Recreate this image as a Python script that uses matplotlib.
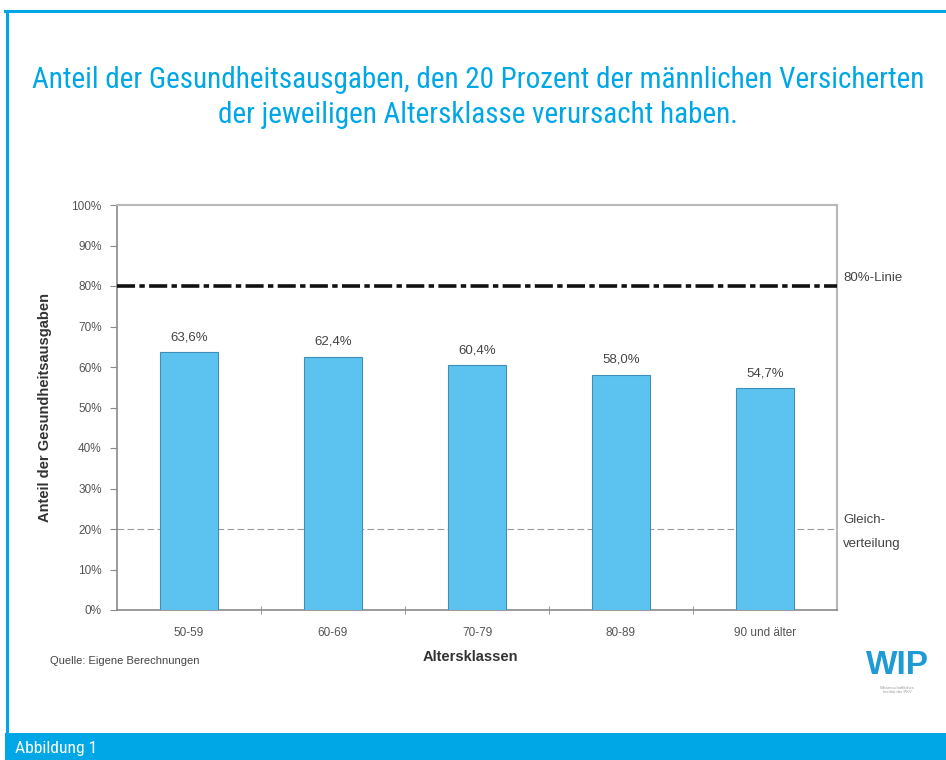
import matplotlib
matplotlib.use("Agg")
import matplotlib.pyplot as plt
from matplotlib.patches import Rectangle
from matplotlib.lines import Line2D
from matplotlib.ticker import FixedLocator, FuncFormatter
from matplotlib import font_manager as fm

categories = ["50-59", "60-69", "70-79", "80-89", "90 und älter"]
values = [63.6, 62.4, 60.4, 58.0, 54.7]
value_labels = ["63,6%", "62,4%", "60,4%", "58,0%", "54,7%"]
yticks = [0, 10, 20, 30, 40, 50, 60, 70, 80, 90, 100]
line80 = 80
line20 = 20
title1 = "Anteil der Gesundheitsausgaben, den 20 Prozent der männlichen Versicherten"
title2 = "der jeweiligen Altersklasse verursacht haben."

W, H = 946, 760
fig = plt.figure(figsize=(W / 100, H / 100), dpi=100)
fig.patch.set_facecolor("white")

blue = "#00A7E7"

# pick a condensed font if available
names = {f.name for f in fm.fontManager.ttflist}
narrow_family = None
for cand in ["Liberation Sans Narrow", "Roboto Condensed", "Open Sans Condensed",
             "DejaVu Sans Condensed", "Noto Sans Condensed"]:
    if cand in names:
        narrow_family = cand
        break
title_props = dict(family=[narrow_family or "Liberation Sans", "DejaVu Sans"])
if narrow_family is None:
    fp = fm.FontProperties(family="DejaVu Sans", stretch="condensed")
    path = fm.findfont(fp, fallback_to_default=True)
    if "Condensed" in path:
        title_props = dict(family=["DejaVu Sans"], stretch="condensed")

chart_font = ["Liberation Sans", "DejaVu Sans"]
plt.rcParams["font.family"] = chart_font

# frame
fig.add_artist(Line2D([5 / W, 1], [1 - 11 / H, 1 - 11 / H], color=blue, lw=2.2))
fig.add_artist(Line2D([6.5 / W, 6.5 / W], [1 - 11 / H, 1 - 733 / H], color=blue, lw=2.2))
fig.add_artist(Rectangle((5 / W, 0), 1 - 5 / W, 27 / H, transform=fig.transFigure,
                         color=blue, lw=0))
ab = fig.text(15 / W, 1 - 749 / H, "Abbildung 1", color="white", fontsize=12,
              va="center", ha="left", **title_props)

# title
t1 = fig.text(478 / W, 1 - 80 / H, title1, color=blue, fontsize=23,
              ha="center", va="center", **title_props)
t2 = fig.text(478 / W, 1 - 115 / H, title2, color=blue, fontsize=23,
              ha="center", va="center", **title_props)
fig.canvas.draw()
r = fig.canvas.get_renderer()
w1 = t1.get_window_extent(r).width
if w1 > 895:
    fs = 23 * 895 / w1
    t1.set_fontsize(fs)
    t2.set_fontsize(fs)
    ab.set_fontsize(max(9, 12 * 895 / w1 * 1.15))

# axes
left, right, top, bottom = 117, 837, 205, 610
ax = fig.add_axes([left / W, 1 - bottom / H, (right - left) / W, (bottom - top) / H])
x = list(range(len(categories)))
ax.bar(x, values, width=0.4, color="#5CC3F0", edgecolor="#3F8DB8", linewidth=0.8, zorder=3)
for xi, v, lab in zip(x, values, value_labels):
    ax.text(xi, v + 2.3, lab, ha="center", va="bottom", fontsize=9.5, color="#444444")

ax.set_xlim(-0.5, len(categories) - 0.5)
ax.set_ylim(0, 100)
ax.axhline(line80, color="#111111", lw=2.6, ls=(0, (5, 1.2, 1.5, 1.2)), zorder=4)
ax.axhline(line20, color="#9a9a9a", lw=0.8, ls=(0, (6, 3)), zorder=2)

for s in ["top", "right"]:
    ax.spines[s].set_color("#b8b8b8")
    ax.spines[s].set_linewidth(1.5)
ax.spines["left"].set_color("#8a8a8a")
ax.spines["left"].set_linewidth(1.2)
ax.spines["bottom"].set_color("#8a8a8a")
ax.spines["bottom"].set_linewidth(1.2)

ax.yaxis.set_major_locator(FixedLocator(yticks))
ax.yaxis.set_major_formatter(FuncFormatter(lambda v, p: f"{int(v)}%"))
ax.tick_params(axis="y", direction="out", length=5, color="#8a8a8a", labelsize=8.5,
               labelcolor="#555555", pad=6)
ax.set_xticks(x)
ax.set_xticklabels(categories)
ax.tick_params(axis="x", which="major", length=0, labelsize=8.5, labelcolor="#555555", pad=12)
ax.set_xticks([i + 0.5 for i in x[:-1]], minor=True)
ax.tick_params(axis="x", which="minor", direction="inout", length=6, color="#8a8a8a")

ax.set_ylabel("Anteil der Gesundheitsausgaben", fontsize=10.5, fontweight="bold",
              color="#333333", labelpad=14)

# right-side annotations
fig.text(843 / W, 1 - 278 / H, "80%-Linie", fontsize=9.5, color="#444444", va="center")
fig.text(843 / W, 1 - 520 / H, "Gleich-", fontsize=9.5, color="#444444", va="center")
fig.text(843 / W, 1 - 544 / H, "verteilung", fontsize=9.5, color="#444444", va="center")

fig.text(470 / W, 1 - 657 / H, "Altersklassen", fontsize=10.5, fontweight="bold",
         color="#333333", ha="center", va="center")
fig.text(50 / W, 1 - 661 / H, "Quelle: Eigene Berechnungen", fontsize=8,
         color="#444444", ha="left", va="center")

# logo
fig.text(897 / W, 1 - 665 / H, "WIP", fontsize=24, fontweight="bold", color="#1E9AD6",
         ha="center", va="center")
fig.text(897 / W, 1 - 690 / H, "Wissenschaftliches\nInstitut der PKV", fontsize=3,
         color="#999999", ha="center", va="center", linespacing=1.2)

fig.savefig("out.png", dpi=100)
